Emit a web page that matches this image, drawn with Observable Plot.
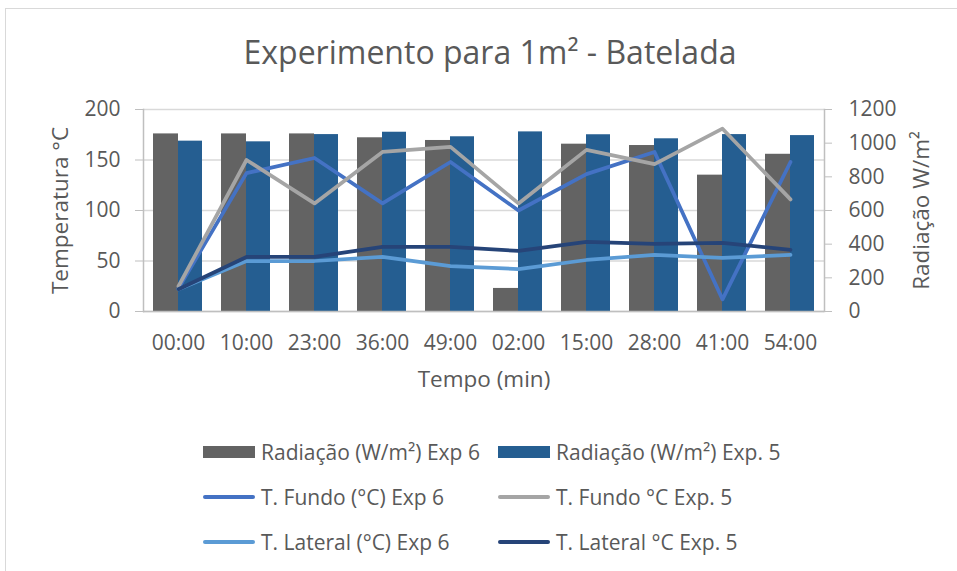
<!DOCTYPE html>
<html><head><meta charset="utf-8">
<script src="https://cdn.jsdelivr.net/npm/d3@7"></script>
<script src="https://cdn.jsdelivr.net/npm/@observablehq/plot@0.6"></script>
<style>
body{margin:0;background:#fff;font-family:"Open Sans",sans-serif;}
#chart{position:relative;width:957px;height:571px;overflow:hidden;background:#fff;}
#frame{position:absolute;left:5px;top:8px;width:1000px;height:1000px;border-top:1px solid #d9d9d9;border-left:1px solid #d9d9d9;}
#plot{position:absolute;left:0;top:0;}
#title{position:absolute;left:0;width:980px;top:30px;line-height:normal;text-align:center;font-size:32px;color:#595959;white-space:nowrap;}
#legend{position:absolute;left:203px;top:429px;display:grid;grid-template-columns:295px auto;}
.item{display:flex;align-items:center;height:45px;font-size:21px;color:#595959;white-space:nowrap;}
.sw{width:52px;margin-right:6px;}
.sw.bar{height:12px;}
.sw.line{height:4px;border-radius:2px;}
</style>
</head><body>
<div id="chart">
  <div id="frame"></div>
  <div id="plot"></div>
  <div id="title">Experimento para 1m² - Batelada</div>
  <div id="legend"></div>
</div>
<script>
const times = ["00:00","10:00","23:00","36:00","49:00","02:00","15:00","28:00","41:00","54:00"];
const radExp6 = [1055,1055,1055,1032,1016,137,994,986,810,934];
const radExp5 = [1012,1008,1051,1065,1038,1067,1050,1026,1051,1045];
const fundoExp6 = [23,137,152,107,148,100,136,158,12,148];
const fundoExp5 = [25,150,107,158,163,107,160,146,181,111];
const latExp6 = [22,50,50,54,45,42,51,56,53,56];
const latExp5 = [22,54,54,64,64,60,69,67,68,61];
const tempTicks = [0,50,100,150,200];
const radTicks = [0,200,400,600,800,1000,1200];
const RATIO = 6; // 1200 W/m² on right axis ↔ 200 °C on left axis

const seriesNames = ["Radiação (W/m²) Exp 6","Radiação (W/m²) Exp. 5","T. Fundo (°C) Exp 6","T. Fundo °C Exp. 5","T. Lateral (°C) Exp 6","T. Lateral °C Exp. 5"];
const seriesColors = ["#636363","#255e91","#4472c4","#a5a5a5","#5b9bd5","#264478"];
const seriesKinds = ["bar","bar","line","line","line","line"];

const rows = times.map((t,i)=>({t, r6: radExp6[i]/RATIO, r5: radExp5[i]/RATIO, f6: fundoExp6[i], f5: fundoExp5[i], l6: latExp6[i], l5: latExp5[i]}));

const lineOpts = {x:"t", strokeWidth:3.75, strokeLinejoin:"round", strokeLinecap:"round"};
const chart = Plot.plot({
  width: 957, height: 571,
  marginLeft: 143, marginRight: 133, marginTop: 109, marginBottom: 260,
  style: {fontSize:"21px", fontFamily:"Open Sans, sans-serif", color:"#595959", background:"transparent"},
  x: {type:"band", domain: times, padding: 0},
  y: {domain:[0,200]},
  marks: [
    Plot.gridY(tempTicks, {stroke:"#d9d9d9", strokeOpacity:1, strokeWidth:1.3}),
    Plot.barY(rows, {x:"t", y:"r6", fill:seriesColors[0], insetLeft:9, insetRight:34}),
    Plot.barY(rows, {x:"t", y:"r5", fill:seriesColors[1], insetLeft:34, insetRight:10}),
    Plot.line(rows, {...lineOpts, y:"f6", stroke:seriesColors[2]}),
    Plot.line(rows, {...lineOpts, y:"f5", stroke:seriesColors[3]}),
    Plot.line(rows, {...lineOpts, y:"l6", stroke:seriesColors[4]}),
    Plot.line(rows, {...lineOpts, y:"l5", stroke:seriesColors[5]}),
    Plot.ruleY([0], {stroke:"#bfbfbf", strokeWidth:1.5}),
    Plot.frame({anchor:"left", stroke:"#bfbfbf", strokeWidth:1.5}),
    Plot.frame({anchor:"right", stroke:"#bfbfbf", strokeWidth:1.5}),
    Plot.axisY(tempTicks, {anchor:"left", tickSize:8, tickPadding:15, stroke:"#bfbfbf", fill:"#595959",
      label:"Temperatura °C", labelAnchor:"center", labelArrow:"none", labelOffset:91}),
    Plot.axisY(radTicks.map(v=>v/RATIO), {anchor:"right", tickSize:7, tickPadding:17, stroke:"#bfbfbf", fill:"#595959",
      tickFormat: d => String(Math.round(d*RATIO)),
      label:"Radiação W/m²", labelAnchor:"center", labelArrow:"none", labelOffset:104}),
    Plot.axisX({tickSize:0, tickPadding:24, fill:"#595959",
      label:"Tempo (min)", labelAnchor:"center", labelArrow:"none", labelOffset:75})
  ]
});
document.getElementById("plot").appendChild(chart);
// axis titles a little larger than tick labels, as in the reference
chart.querySelectorAll("g[aria-label='y-axis label'] text, g[aria-label='x-axis label'] text").forEach(t => t.style.fontSize = "22.5px");

const legend = document.getElementById("legend");
seriesNames.forEach((name,i)=>{
  const item = document.createElement("div");
  item.className = "item";
  const sw = document.createElement("div");
  sw.className = "sw " + seriesKinds[i];
  sw.style.background = seriesColors[i];
  const tx = document.createElement("span");
  tx.textContent = name;
  item.appendChild(sw); item.appendChild(tx);
  legend.appendChild(item);
});
</script>
</body></html>
